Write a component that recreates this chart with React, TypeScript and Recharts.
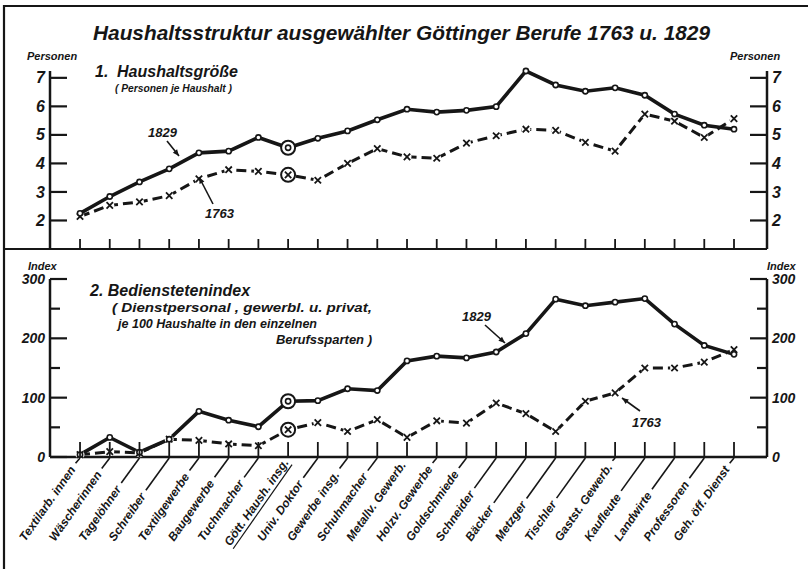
import React from "react";
import { LineChart, Line, XAxis, YAxis } from "recharts";

// Berufe (x-Achse)
const berufe = [
  "Textilarb. innen", "Wäscherinnen", "Tagelöhner", "Schreiber", "Textilgewerbe",
  "Baugewerbe", "Tuchmacher", "Gött. Haush. insg.", "Univ. Doktor", "Gewerbe insg.",
  "Schuhmacher", "Metallv. Gewerb.", "Holzv. Gewerbe", "Goldschmiede", "Schneider",
  "Bäcker", "Metzger", "Tischler", "Gastst. Gewerb.", "Kaufleute", "Landwirte",
  "Professoren", "Geh. öff. Dienst",
];

// 1. Haushaltsgröße (Personen je Haushalt)
const groesse1829 = [2.25, 2.84, 3.35, 3.81, 4.37, 4.43, 4.91, 4.55, 4.88, 5.14, 5.53, 5.9, 5.8, 5.86, 5.99, 7.24, 6.75, 6.53, 6.65, 6.39, 5.73, 5.34, 5.2];
const groesse1763 = [2.14, 2.53, 2.65, 2.87, 3.46, 3.78, 3.72, 3.6, 3.41, 4.0, 4.52, 4.23, 4.18, 4.71, 4.97, 5.2, 5.16, 4.74, 4.43, 5.73, 5.48, 4.91, 5.57];

// 2. Bedienstetenindex (je 100 Haushalte)
const index1829 = [4, 33, 8, 30, 77, 62, 51, 94, 95, 115, 112, 162, 170, 167, 177, 208, 266, 255, 261, 267, 224, 188, 173];
const index1763 = [4, 9, 7, 30, 28, 22, 19, 46, 58, 43, 63, 33, 61, 57, 91, 73, 43, 94, 108, 150, 150, 160, 181];

const personenTicks = [2, 3, 4, 5, 6, 7];
const indexTicks = [0, 50, 100, 150, 200, 250, 300];
const indexLabels = [0, 100, 200, 300];

const HERVOR = 7; // Gött. Haush. insg. – eingekreist
const INK = "#161616";
const FONT = "'Liberation Sans', Arial, sans-serif";
const X_DOMAIN: [number, number] = [-1.01, 23.11];
const xTicks = berufe.map((_, i) => i);

const dataOben = berufe.map((b, i) => ({ i, name: b, j1829: groesse1829[i], j1763: groesse1763[i] }));
const dataUnten = berufe.map((b, i) => ({ i, name: b, j1829: index1829[i], j1763: index1763[i] }));

const txt = { fontFamily: FONT, fontStyle: "italic", fontWeight: 700, fill: INK } as const;

let ctx: CanvasRenderingContext2D | null = null;
const textBreite = (t: string, font: string) => {
  if (!ctx && typeof document !== "undefined") ctx = document.createElement("canvas").getContext("2d");
  if (!ctx) return t.length * 6.3;
  ctx.font = font;
  return ctx.measureText(t).width;
};

const Kreis = (props: any) => {
  const { cx, cy, index } = props;
  if (cx == null || cy == null) return null;
  return (
    <g key={`k-${index}`}>
      {index === HERVOR && <circle cx={cx} cy={cy} r={7} fill="#fff" stroke={INK} strokeWidth={2} />}
      <circle cx={cx} cy={cy} r={2.6} fill="#fff" stroke={INK} strokeWidth={1.6} />
    </g>
  );
};

const Kreuz = (props: any) => {
  const { cx, cy, index } = props;
  if (cx == null || cy == null) return null;
  const s = 3.2;
  return (
    <g key={`x-${index}`}>
      <circle cx={cx} cy={cy} r={index === HERVOR ? 7 : 4.5} fill="#fff" stroke={index === HERVOR ? INK : "none"} strokeWidth={2} />
      <path d={`M${cx - s},${cy - s}L${cx + s},${cy + s}M${cx + s},${cy - s}L${cx - s},${cy + s}`} stroke={INK} strokeWidth={1.8} />
    </g>
  );
};

const yTick = (seite: "links" | "rechts", labels: number[], fontSize: number) => (props: any) => {
  const { x, y, payload } = props;
  const major = labels.includes(payload.value);
  const len = major ? 17 : 10;
  const dir = seite === "links" ? 1 : -1;
  return (
    <g>
      <line x1={x} x2={x + dir * len} y1={y} y2={y} stroke={INK} strokeWidth={2.2} />
      {major && (
        <text x={x - dir * 5} y={y} dy="0.35em" textAnchor={seite === "links" ? "end" : "start"} fontSize={fontSize} {...txt}>
          {payload.value}
        </text>
      )}
    </g>
  );
};

const xTickOben = (props: any) => {
  const { x, y } = props;
  return <line x1={x} x2={x} y1={y} y2={y - 10} stroke={INK} strokeWidth={1.8} />;
};

const WINKEL = (55 * Math.PI) / 180;
const xTickUnten = (props: any) => {
  const { x, y, payload } = props;
  const name = berufe[payload.value];
  const fs = 12;
  const w = textBreite(name, `italic 700 ${fs}px ${FONT}`);
  const d = Math.max(101, w + 4);
  const c = Math.cos(WINKEL);
  const s = Math.sin(WINKEL);
  const rest = d - w - 5;
  return (
    <g>
      <line x1={x} x2={x} y1={y} y2={y - 15} stroke={INK} strokeWidth={1.8} />
      {rest > 2 && <line x1={x} y1={y + 1} x2={x - rest * c} y2={y + rest * s} stroke={INK} strokeWidth={1.6} />}
      <text
        transform={`translate(${x - d * c},${y + d * s}) rotate(-55)`}
        dominantBaseline="central"
        fontSize={fs}
        textDecoration={payload.value === HERVOR ? "underline" : undefined}
        {...txt}
      >
        {name}
      </text>
    </g>
  );
};

const Pfeil = ({ x1, y1, x2, y2 }: { x1: number; y1: number; x2: number; y2: number }) => {
  const a = Math.atan2(y2 - y1, x2 - x1);
  const l = 7;
  const b = 0.4;
  const p1 = [x2 - l * Math.cos(a - b), y2 - l * Math.sin(a - b)];
  const p2 = [x2 - l * Math.cos(a + b), y2 - l * Math.sin(a + b)];
  return (
    <g>
      <line x1={x1} y1={y1} x2={x2} y2={y2} stroke={INK} strokeWidth={1.6} />
      <path d={`M${x2},${y2}L${p1[0]},${p1[1]}L${p2[0]},${p2[1]}Z`} fill={INK} />
    </g>
  );
};

export default function App() {
  return (
    <div style={{ position: "absolute", left: 0, top: 0, width: 808, height: 569, background: "#fff", overflow: "hidden" }}>
      <div style={{ position: "absolute", left: 0, top: 0 }}>
        <LineChart width={808} height={262} data={dataOben} margin={{ top: 71, right: 0, bottom: 0, left: 0 }}>
          <XAxis
            dataKey="i" type="number" domain={X_DOMAIN} ticks={xTicks} interval={0} allowDataOverflow
            axisLine={false} tickLine={false} tickSize={0} tickMargin={0} height={13} tick={xTickOben}
          />
          <YAxis
            yAxisId="l" orientation="left" width={50} domain={[1, 7]} ticks={personenTicks} interval={0}
            axisLine={{ stroke: INK, strokeWidth: 2.5 }} tickLine={false} tickSize={0} tickMargin={0}
            tick={yTick("links", personenTicks, 16)}
          />
          <YAxis
            yAxisId="r" orientation="right" width={41} domain={[1, 7]} ticks={personenTicks} interval={0}
            axisLine={{ stroke: INK, strokeWidth: 2.5 }} tickLine={false} tickSize={0} tickMargin={0}
            tick={yTick("rechts", personenTicks, 16)}
          />
          <Line yAxisId="r" dataKey="j1829" stroke="none" dot={false} activeDot={false} legendType="none" isAnimationActive={false} />
          <Line yAxisId="l" dataKey="j1763" stroke={INK} strokeWidth={3} strokeDasharray="10 5" dot={Kreuz} isAnimationActive={false} type="linear" />
          <Line yAxisId="l" dataKey="j1829" stroke={INK} strokeWidth={3.6} dot={Kreis} isAnimationActive={false} type="linear" />
        </LineChart>
      </div>
      <div style={{ position: "absolute", left: 0, top: 0 }}>
        <LineChart width={808} height={569} data={dataUnten} margin={{ top: 279, right: 0, bottom: 0, left: 0 }}>
          <XAxis
            dataKey="i" type="number" domain={X_DOMAIN} ticks={xTicks} interval={0} allowDataOverflow
            axisLine={{ stroke: INK, strokeWidth: 2.5 }} tickLine={false} tickSize={0} tickMargin={0} height={112}
            tick={xTickUnten}
          />
          <YAxis
            yAxisId="l" orientation="left" width={50} domain={[0, 300]} ticks={indexTicks} interval={0}
            axisLine={{ stroke: INK, strokeWidth: 2.5 }} tickLine={false} tickSize={0} tickMargin={0}
            tick={yTick("links", indexLabels, 14)}
          />
          <YAxis
            yAxisId="r" orientation="right" width={41} domain={[0, 300]} ticks={indexTicks} interval={0}
            axisLine={{ stroke: INK, strokeWidth: 2.5 }} tickLine={false} tickSize={0} tickMargin={0}
            tick={yTick("rechts", indexLabels, 14)}
          />
          <Line yAxisId="r" dataKey="j1829" stroke="none" dot={false} activeDot={false} legendType="none" isAnimationActive={false} />
          <Line yAxisId="l" dataKey="j1763" stroke={INK} strokeWidth={3} strokeDasharray="10 5" dot={Kreuz} isAnimationActive={false} type="linear" />
          <Line yAxisId="l" dataKey="j1829" stroke={INK} strokeWidth={3.6} dot={Kreis} isAnimationActive={false} type="linear" />
        </LineChart>
      </div>
      <svg width={808} height={569} style={{ position: "absolute", left: 0, top: 0, pointerEvents: "none" }}>
        <path d="M4,569L4,6L808,6" fill="none" stroke={INK} strokeWidth={2.2} />
        <line x1={4} x2={767} y1={249} y2={249} stroke={INK} strokeWidth={2.2} />

        <text x={93} y={40} fontSize={21} textLength={617} lengthAdjust="spacingAndGlyphs" {...txt}>
          Haushaltsstruktur ausgewählter Göttinger Berufe  1763 u. 1829
        </text>

        <text x={27} y={60} fontSize={11} {...txt}>Personen</text>
        <text x={730} y={60} fontSize={11} {...txt}>Personen</text>
        <text x={28} y={270} fontSize={11} {...txt}>Index</text>
        <text x={767} y={270} fontSize={11} {...txt}>Index</text>

        <text x={95} y={77} fontSize={16} {...txt}>1.</text>
        <text x={117} y={77} fontSize={16} {...txt}>Haushaltsgröße</text>
        <text x={115} y={92} fontSize={11.5} textLength={117} lengthAdjust="spacingAndGlyphs" {...txt}>( Personen je Haushalt )</text>

        <text x={90} y={296} fontSize={16} {...txt}>2. Bedienstetenindex</text>
        <text x={112} y={312} fontSize={13} textLength={260} lengthAdjust="spacingAndGlyphs" {...txt}>( Dienstpersonal , gewerbl. u. privat,</text>
        <text x={118} y={328} fontSize={13} textLength={199} lengthAdjust="spacingAndGlyphs" {...txt}>je 100 Haushalte in den einzelnen</text>
        <text x={372} y={344} fontSize={13} textAnchor="end" {...txt}>Berufssparten )</text>

        <text x={148} y={137} fontSize={13} {...txt}>1829</text>
        <Pfeil x1={167} y1={141} x2={179} y2={156} />
        <text x={205} y={218} fontSize={13} {...txt}>1763</text>
        <Pfeil x1={213} y1={204} x2={199} y2={177} />

        <text x={462} y={321} fontSize={13} {...txt}>1829</text>
        <Pfeil x1={485} y1={325} x2={505} y2={343} />
        <text x={632} y={427} fontSize={13} {...txt}>1763</text>
        <Pfeil x1={640} y1={411} x2={622} y2={398} />
      </svg>
    </div>
  );
}
